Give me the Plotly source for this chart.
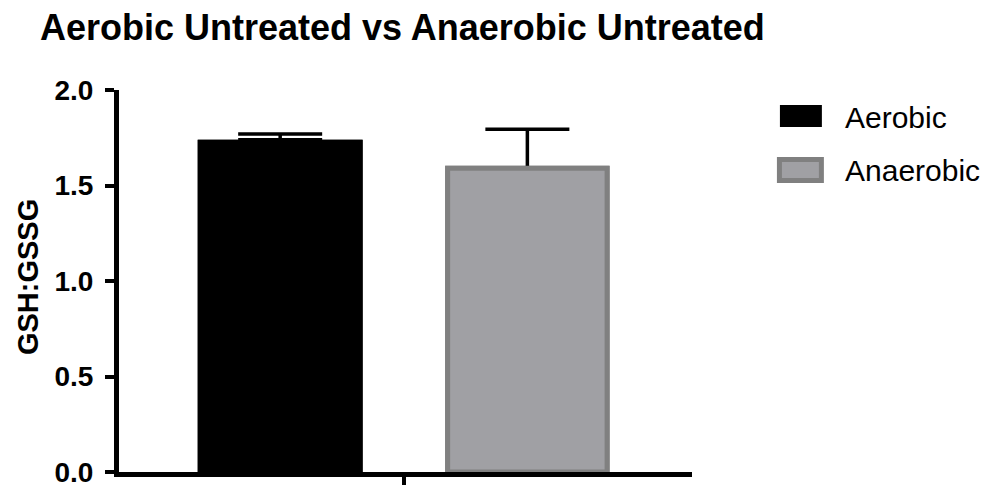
import plotly.graph_objects as go

# GSH:GSSG ratio, untreated cells
categories = ["Aerobic", "Anaerobic"]
means = [1.74, 1.59]
err_plus = [0.03, 0.205]

y_ticks = [0.0, 0.5, 1.0, 1.5, 2.0]
y_tick_text = ["0.0", "0.5", "1.0", "1.5", "2.0"]

fill_colors = ["#000000", "#A0A0A4"]
edge_colors = ["#000000", "#808080"]

FONT = "Arial, Liberation Sans, Helvetica, sans-serif"
W, H = 988, 487
L, R, T, B = 118.5, 692, 90, 472

positions = list(range(len(categories)))
bar_style = dict(
    x=positions,
    y=means,
    width=[0.667, 0.645],
    marker=dict(color=fill_colors, line=dict(color=edge_colors, width=[0, 5])),
    showlegend=False,
    hoverinfo="skip",
)

fig = go.Figure()
# upper error bars (SEM); the lower caps sit at the bar tops and are covered
# by the solid bars drawn on top
fig.add_trace(go.Bar(
    error_y=dict(type="data", symmetric=False, array=err_plus,
                 arrayminus=[0] * len(means), color="#000000",
                 thickness=3.5, width=42),
    **bar_style,
))
fig.add_trace(go.Bar(**bar_style))


def px_x(p):
    return (p - L) / (R - L)


def px_y(p):
    return (B - p) / (B - T)


# legend swatches and labels
shapes = [
    dict(type="rect", xref="paper", yref="paper",
         x0=px_x(780), x1=px_x(822), y0=px_y(127), y1=px_y(105),
         fillcolor=fill_colors[0], line=dict(width=0)),
    dict(type="rect", xref="paper", yref="paper",
         x0=px_x(779.5), x1=px_x(821.5), y0=px_y(180.5), y1=px_y(159.5),
         fillcolor=fill_colors[1], line=dict(color=edge_colors[1], width=5)),
]
annotations = [
    dict(text=categories[0], xref="paper", yref="paper", x=px_x(843), y=px_y(117),
         xanchor="left", yanchor="middle", showarrow=False,
         font=dict(family=FONT, size=30, color="#000000")),
    dict(text=categories[1], xref="paper", yref="paper", x=px_x(843), y=px_y(170),
         xanchor="left", yanchor="middle", showarrow=False,
         font=dict(family=FONT, size=30, color="#000000")),
    dict(text="<b>GSH:GSSG</b>", xref="paper", yref="paper", x=px_x(27.5), y=px_y(277),
         xanchor="center", yanchor="middle", textangle=-90, showarrow=False,
         font=dict(family=FONT, size=29, color="#000000")),
]

fig.update_layout(
    width=W, height=H,
    margin=dict(l=L, r=W - R, t=T, b=H - B, pad=0, autoexpand=False),
    paper_bgcolor="white", plot_bgcolor="white",
    barmode="overlay",
    title=dict(text="<b>Aerobic Untreated vs Anaerobic Untreated</b>",
               x=40 / W, xanchor="left", xref="container",
               y=1 - 27 / H, yanchor="middle", yref="container",
               font=dict(family=FONT, size=36, color="#000000")),
    shapes=shapes,
    annotations=annotations,
)

fig.update_xaxes(
    range=[-0.652, 1.666], showgrid=False, zeroline=False, automargin=False,
    showline=True, linecolor="#000000", linewidth=5,
    tickmode="array", tickvals=[0.5], ticktext=[""],
    ticks="outside", ticklen=8, tickwidth=3.5, tickcolor="#000000",
)
fig.update_yaxes(
    range=[0, 2], showgrid=False, zeroline=False, automargin=False,
    showline=True, linecolor="#000000", linewidth=5,
    tickmode="array", tickvals=y_ticks, ticktext=["<b>%s</b>" % t for t in y_tick_text],
    ticks="outside", ticklen=9, tickwidth=4, tickcolor="#000000",
    ticklabelstandoff=6, ticklabeloverflow="allow",
    tickfont=dict(family=FONT, size=28, color="#000000"),
)

fig.write_html("out.html")
